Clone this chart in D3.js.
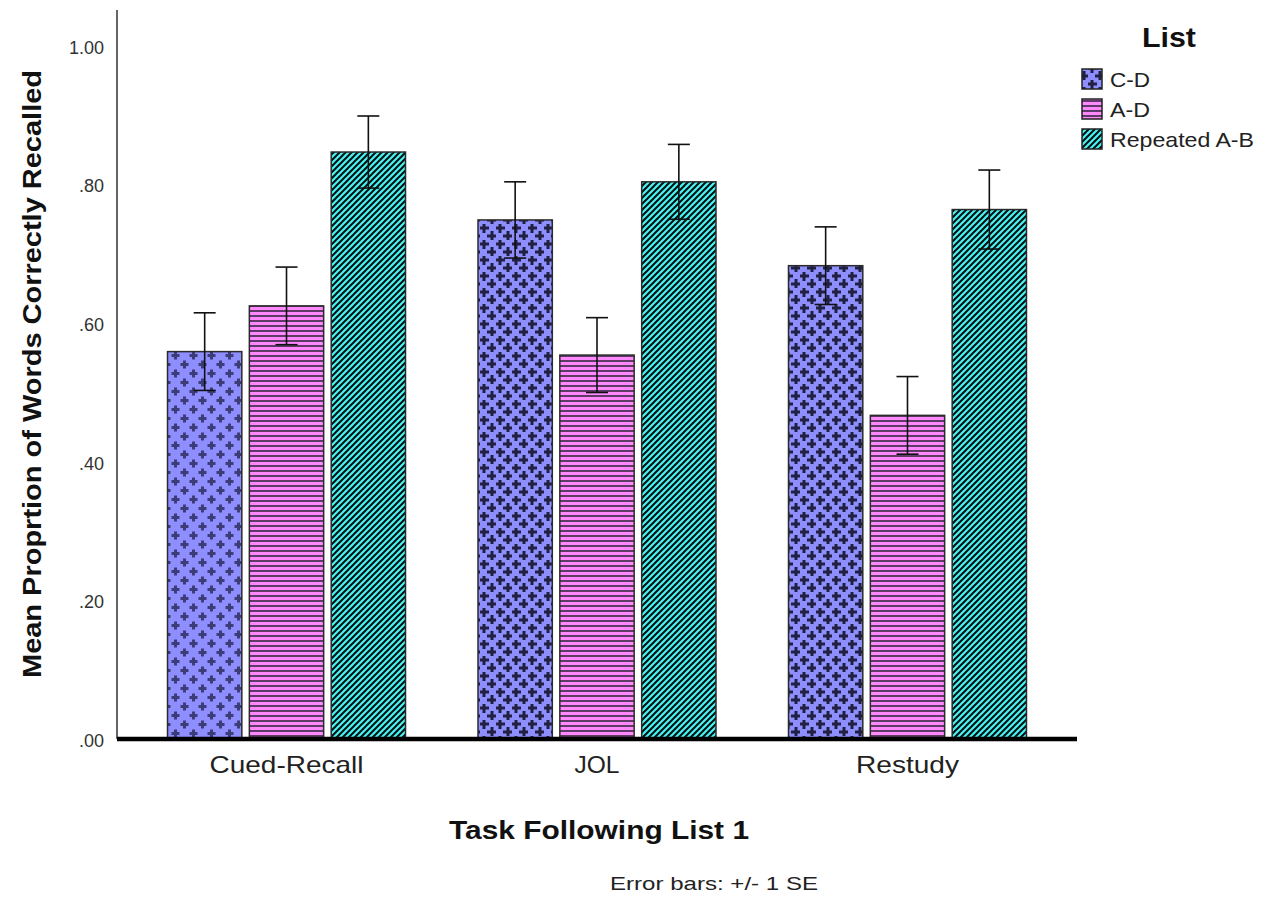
<!DOCTYPE html>
<html><head><meta charset="utf-8">
<script src="https://cdn.jsdelivr.net/npm/d3@7"></script>
<style>body{margin:0;background:#fff}svg{display:block}text{font-family:"Liberation Sans",Arial,sans-serif}</style>
</head><body>
<svg id="c" width="1272" height="901"></svg>
<script>
const categories = ["Cued-Recall", "JOL", "Restudy"];
const categoryLabelWidths = [154, 45, 103];
const series = ["C-D", "A-D", "Repeated A-B"];
const legendLabelWidths = [40, 40, 144];
const cdMeans  = [0.559, 0.749, 0.683];
const adMeans  = [0.625, 0.554, 0.467];
const repMeans = [0.847, 0.804, 0.764];
const cdSE  = [0.056, 0.055, 0.056];
const adSE  = [0.056, 0.054, 0.056];
const repSE = [0.052, 0.054, 0.057];
const yTicks = [0, 0.2, 0.4, 0.6, 0.8, 1.0];
const yTickLabels = [".00", ".20", ".40", ".60", ".80", "1.00"];

const svg = d3.select("#c");
const defs = svg.append("defs");

function plusPattern(id, size, arm, w, fill, ink) {
  const p = defs.append("pattern").attr("id", id).attr("patternUnits", "userSpaceOnUse")
    .attr("width", size).attr("height", size);
  p.append("rect").attr("width", size).attr("height", size).attr("fill", fill);
  [[size/4, size/4], [3*size/4, 3*size/4]].forEach(([cx, cy]) => {
    p.append("rect").attr("x", cx - arm/2).attr("y", cy - w/2).attr("width", arm).attr("height", w).attr("fill", ink);
    p.append("rect").attr("x", cx - w/2).attr("y", cy - arm/2).attr("width", w).attr("height", arm).attr("fill", ink);
  });
}
plusPattern("cdLight", 18, 8, 3, "#8e8eff", "#3c3c78");
plusPattern("cdHeavy", 16, 10, 3, "#8e8eff", "#202042");

const ad = defs.append("pattern").attr("id", "adPat").attr("patternUnits", "userSpaceOnUse")
  .attr("width", 8).attr("height", 5);
ad.append("rect").attr("width", 8).attr("height", 5).attr("fill", "#ff88ff");
ad.append("rect").attr("y", 0).attr("width", 8).attr("height", 2).attr("fill", "#5e3a66");

const rp = defs.append("pattern").attr("id", "repPat").attr("patternUnits", "userSpaceOnUse")
  .attr("width", 6).attr("height", 6);
rp.append("rect").attr("width", 6).attr("height", 6).attr("fill", "#48f2f2");
rp.append("path").attr("d", "M-1.5,1.5 L1.5,-1.5 M0,6 L6,0 M4.5,7.5 L7.5,4.5")
  .attr("stroke", "#041010").attr("stroke-width", 2);

const x0 = d3.scaleBand().domain(categories).range([117, 1077]).paddingInner(0.2335).paddingOuter(0.1627);
const x1 = d3.scaleBand().domain(series).range([0, x0.bandwidth()]).paddingInner(0.092).paddingOuter(0);
const y = d3.scaleLinear().domain([0, 1]).range([739, 46]);

const meansBySeries = [cdMeans, adMeans, repMeans];
const seBySeries = [cdSE, adSE, repSE];
const data = [];
categories.forEach((c, i) => series.forEach((s, j) => {
  let fill;
  if (j === 0) fill = i === 0 ? "url(#cdLight)" : "url(#cdHeavy)";
  else if (j === 1) fill = "url(#adPat)";
  else fill = "url(#repPat)";
  data.push({cat: c, ser: s, v: meansBySeries[j][i], se: seBySeries[j][i], fill});
}));

// y axis
const yAxis = svg.append("g").attr("transform", "translate(117,0)")
  .call(d3.axisLeft(y).tickValues(yTicks).tickSize(0).tickPadding(13)
    .tickFormat((d, i) => yTickLabels[i]));
yAxis.select(".domain").remove();
yAxis.selectAll("text").attr("font-size", 18).attr("fill", "#333")
  .attr("font-family", '"Liberation Sans",Arial,sans-serif').attr("dy", "0.4em");
svg.append("line").attr("x1", 117).attr("x2", 117).attr("y1", 10).attr("y2", 739)
  .attr("stroke", "#333").attr("stroke-width", 1.5);

// bars
svg.append("g").selectAll("rect").data(data).join("rect")
  .attr("x", d => x0(d.cat) + x1(d.ser))
  .attr("y", d => y(d.v))
  .attr("width", x1.bandwidth())
  .attr("height", d => y(0) - y(d.v))
  .attr("fill", d => d.fill)
  .attr("stroke", "#2a2a2a").attr("stroke-width", 1.5);

// error bars
const eb = svg.append("g").attr("stroke", "#111").attr("stroke-width", 1.6);
data.forEach(d => {
  const cx = x0(d.cat) + x1(d.ser) + x1.bandwidth() / 2;
  eb.append("line").attr("x1", cx).attr("x2", cx).attr("y1", y(d.v + d.se)).attr("y2", y(d.v - d.se));
  eb.append("line").attr("x1", cx - 11).attr("x2", cx + 11).attr("y1", y(d.v + d.se)).attr("y2", y(d.v + d.se));
  eb.append("line").attr("x1", cx - 11).attr("x2", cx + 11).attr("y1", y(d.v - d.se)).attr("y2", y(d.v - d.se));
});

// x axis
const xAxis = svg.append("g").attr("transform", "translate(0,739)")
  .call(d3.axisBottom(x0).tickSize(0).tickPadding(16));
xAxis.select(".domain").remove();
xAxis.selectAll("text").attr("font-size", 24).attr("fill", "#222")
  .attr("font-family", '"Liberation Sans",Arial,sans-serif').attr("dy", "0.75em")
  .attr("textLength", (d, i) => categoryLabelWidths[i]).attr("lengthAdjust", "spacingAndGlyphs");
svg.append("line").attr("x1", 117).attr("x2", 1077).attr("y1", 739).attr("y2", 739)
  .attr("stroke", "#000").attr("stroke-width", 4.5);

// titles
svg.append("text").attr("x", 599).attr("y", 839).attr("text-anchor", "middle")
  .attr("font-size", 25).attr("font-weight", "bold").attr("fill", "#111")
  .attr("textLength", 300).attr("lengthAdjust", "spacingAndGlyphs")
  .text("Task Following List 1");
svg.append("text").attr("transform", "translate(41,374) rotate(-90)").attr("text-anchor", "middle")
  .attr("font-size", 25).attr("font-weight", "bold").attr("fill", "#111")
  .attr("textLength", 608).attr("lengthAdjust", "spacingAndGlyphs")
  .text("Mean Proprtion of Words Correctly Recalled");
svg.append("text").attr("x", 714).attr("y", 890).attr("text-anchor", "middle")
  .attr("font-size", 19).attr("fill", "#222")
  .attr("textLength", 208).attr("lengthAdjust", "spacingAndGlyphs")
  .text("Error bars: +/- 1 SE");

// legend
svg.append("text").attr("x", 1169).attr("y", 47).attr("text-anchor", "middle")
  .attr("font-size", 27).attr("font-weight", "bold").attr("fill", "#111")
  .attr("textLength", 54).attr("lengthAdjust", "spacingAndGlyphs").text("List");
const legFills = ["url(#cdHeavy)", "url(#adPat)", "url(#repPat)"];
const lg = svg.append("g");
series.forEach((s, i) => {
  const yy = 69 + i * 30;
  lg.append("rect").attr("x", 1082).attr("y", yy).attr("width", 20).attr("height", 20)
    .attr("fill", legFills[i]).attr("stroke", "#222").attr("stroke-width", 1.5);
  lg.append("text").attr("x", 1110).attr("y", yy + 18).attr("font-size", 21).attr("fill", "#222")
    .attr("textLength", legendLabelWidths[i]).attr("lengthAdjust", "spacingAndGlyphs").text(s);
});
</script>
</body></html>
